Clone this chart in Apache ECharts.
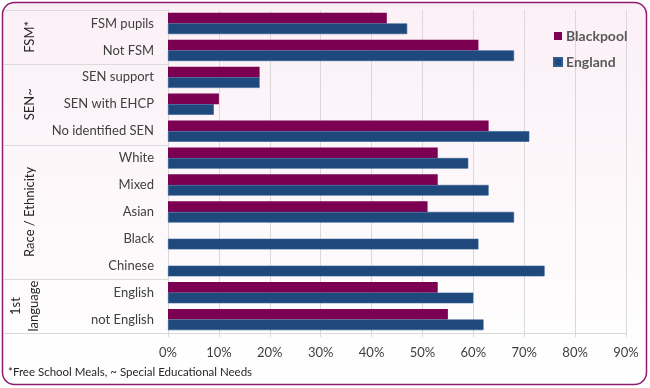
<!DOCTYPE html>
<html><head><meta charset="utf-8">
<script src="https://cdn.jsdelivr.net/npm/echarts@6/dist/echarts.min.js"></script>
<style>html,body{margin:0;padding:0;background:#fff}#c{width:650px;height:388px}</style>
</head><body><div id="c"></div>
<script>
const categories = ['FSM pupils','Not FSM','SEN support','SEN with EHCP','No identified SEN','White','Mixed','Asian','Black','Chinese','English','not English'];
const blackpool = [43,61,18,10,63,53,53,51,null,null,53,55];
const england   = [47,68,18,9,71,59,63,68,61,74,60,62];
const groupLabels = ['FSM*','SEN~','Race / Ethnicity','1st\nlanguage'];
const groupSizes  = [2,3,5,2];
const xTicks = [0,10,20,30,40,50,60,70,80,90];
const footnote = '*Free School Meals, ~ Special Educational Needs';

const FONT = 'Lato';
const chart = echarts.init(document.getElementById('c'), null, {renderer:'canvas'});
const option = {
  animation:false,
  textStyle:{fontFamily:FONT},
  grid:{left:168,right:24,top:10,bottom:55,containLabel:false},
  legend:{
    orient:'vertical', left:548, top:24, itemWidth:8, itemHeight:8, itemGap:12,
    icon:'rect',
    textStyle:{fontFamily:FONT,fontSize:14,fontWeight:'bold',color:'#595959',padding:[0,0,0,-1]},
    data:['Blackpool','England']
  },
  xAxis:{
    type:'value', min:xTicks[0], max:xTicks[xTicks.length-1], interval:10,
    axisLine:{show:true,lineStyle:{color:'#d9d9d9'}},
    axisTick:{show:true,length:4,lineStyle:{color:'#d9d9d9'}},
    splitLine:{show:true,lineStyle:{color:'#d9d9d9'}},
    axisLabel:{formatter:v=>v+'%',color:'#404040',fontSize:13,margin:13,fontFamily:FONT}
  },
  yAxis:{
    type:'category', data:categories, inverse:true,
    axisLine:{show:true,lineStyle:{color:'#d9d9d9'}},
    axisTick:{show:false},
    axisLabel:{color:'#404040',fontSize:13,margin:14,fontFamily:FONT}
  },
  series:[
    {name:'Blackpool',type:'bar',data:blackpool,barGap:'0%',barCategoryGap:'21%',
     itemStyle:{color:'#7B0051'}},
    {name:'England',type:'bar',data:england,barGap:'0%',barCategoryGap:'21%',
     itemStyle:{color:'#1F497D',borderColor:'#2E5C91',borderWidth:0.6}}
  ]
};
chart.setOption(option);

// decorations derived from axes
const x0 = chart.convertToPixel({xAxisIndex:0}, 0);
const c0 = chart.convertToPixel({yAxisIndex:0}, 0);
const c1 = chart.convertToPixel({yAxisIndex:0}, 1);
const step = c1 - c0;
const bound = i => c0 - step/2 + i*step;
const elements = [];
elements.push({type:'rect', z:-100, silent:true,
  shape:{x:2.5,y:2.5,width:644,height:382,r:12},
  style:{fill:new echarts.graphic.LinearGradient(0,0,0,1,[{offset:0,color:'#FBF0F6'},{offset:1,color:'#FFFFFF'}]),
         stroke:'#8E1C6E',lineWidth:1.5}});
let idx = 0;
const bounds = [0];
groupSizes.forEach(s=>{idx+=s;bounds.push(idx);});
bounds.forEach(b=>{
  const y = Math.round(bound(b))+0.5;
  elements.push({type:'line',silent:true,z:5,shape:{x1:4,y1:y,x2:x0,y2:y},style:{stroke:'#d9d9d9',lineWidth:1}});
});
groupLabels.forEach((g,i)=>{
  const yc = (bound(bounds[i])+bound(bounds[i+1]))/2;
  elements.push({type:'text',silent:true,z:5,x: g.indexOf('\n')>=0 ? 25 : 30, y:yc, rotation:Math.PI/2,
    style:{text:g,fill:'#262626',font:'13px '+FONT,align:'center',verticalAlign:'middle',lineHeight:18}});
});
elements.push({type:'text',silent:true,z:5,x:8,y:372,
  style:{text:footnote,fill:'#262626',font:'11.5px '+FONT,align:'left',verticalAlign:'middle'}});
chart.setOption({graphic:{elements}});
</script></body></html>
